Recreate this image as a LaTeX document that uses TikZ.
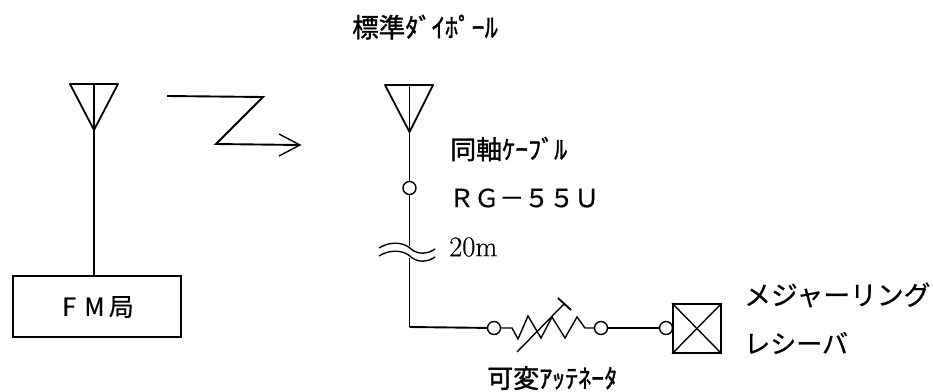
\documentclass[tikz,border=0pt]{standalone}
\usepackage{fontspec}
\setmainfont{Latin Modern Roman}
\newfontfamily\cjk{Noto Sans CJK JP}
\newfontfamily\cjkheavy[FakeBold=1.2]{Noto Sans CJK JP}
\newfontfamily\cjkmed[FakeBold=0.5]{Noto Sans CJK JP}
\newfontfamily\romanmed[FakeBold=0.4]{Latin Modern Roman}
\tikzset{
  wire/.style={line width=1.9pt,black,line join=miter},
  thin wire/.style={line width=1.4pt,black},
  port/.style={circle,draw=black,line width=1.4pt,fill=white,minimum size=13pt,inner sep=0pt},
  lbl/.style={inner sep=0pt,text=black,font=\cjk},
  antenna/.style={line width=1.8pt,black,line join=round},
}
\begin{document}
\begin{tikzpicture}[x=1pt,y=-1pt]
\useasboundingbox[fill=white] (0,0) rectangle (933,391);
% left antenna and station
\coordinate (la1) at (70,84);
\coordinate (la2) at (118,84);
\coordinate (lat) at (94,84);
\coordinate (laa) at (94,130);
\node[draw=black,line width=1.9pt,minimum width=168pt,minimum height=61pt,inner sep=0pt,anchor=north west] (fm) at (12,275) {};
\node[lbl,font=\cjkmed\fontsize{25}{25}\selectfont] (fmt) at (98,307) {F\,\,M\,局};
\draw[antenna] (la1) -- (la2) -- (laa) -- cycle;
\draw[thin wire] (lat) -- (laa);
\draw[wire] (laa) -- (laa |- fm.north);
% radio wave
\coordinate (z1) at (167,96);
\coordinate (z2) at (263,97);
\coordinate (z3) at (216,144);
\coordinate (z4) at (300,145);
\coordinate (h1) at (279,134);
\coordinate (h2) at (279,156);
\draw[wire] (z1) -- (z2) -- (z3) -- (z4);
\draw[thin wire] (h1) -- (z4) -- (h2);
% right antenna
\coordinate (ra1) at (385,85);
\coordinate (ra2) at (433,85);
\coordinate (rat) at (409.5,85);
\coordinate (raa) at (409.5,132);
\draw[antenna] (ra1) -- (ra2) -- (raa) -- cycle;
\draw[thin wire] (rat) -- (raa);
\node[port] (p1) at (409.5,188) {};
\coordinate (b1) at (409.5,246);
\coordinate (b2) at (409.5,258);
\coordinate (corner) at (409.5,327);
\draw[wire] (raa) -- (p1);
\draw[wire] (p1) -- (b1);
\draw[wire] (b2) -- (corner);
% cable break
\coordinate (w1s) at (379,248);
\coordinate (w1e) at (435,249);
\coordinate (w2s) at (379,256);
\coordinate (w2e) at (435,257);
\draw[thin wire] (w1s) .. controls (392,240) and (405,243) .. (411,249) .. controls (418,255) and (428,254) .. (w1e);
\draw[thin wire] (w2s) .. controls (392,248) and (405,251) .. (411,257) .. controls (418,263) and (428,262) .. (w2e);
% attenuator
\node[port] (p2) at (494,328) {};
\node[port] (p3) at (601,328) {};
\node[port] (p4) at (666,328) {};
\node[draw=black,line width=1.8pt,minimum width=48pt,minimum height=49pt,inner sep=0pt,anchor=west] (rx) at (672,328.5) {};
\draw[wire] (corner) -- (p2);
\draw[thin wire,line join=miter] (p2) -- (512,328) -- (518,339) -- (528,316) -- (541,338) -- (552,317) -- (565,338) -- (577,317) -- (585,328) -- (p3);
\draw[wire] (p3) -- (p4);
\coordinate (s1) at (517,352);
\coordinate (s2) at (564,304);
\coordinate (s3) at (558,298);
\coordinate (s4) at (571,310);
\draw[thin wire] (s1) -- (s2);
\draw[wire] (s3) -- (s4);
\draw[thin wire] (rx.north west) -- (rx.south east);
\draw[thin wire] (rx.north east) -- (rx.south west);
% labels
\node[lbl,anchor=west,font=\cjkheavy\fontsize{26.5}{26}\selectfont] (title) at (352,27) {標準ﾀﾞｲﾎﾟｰﾙ};
\node[lbl,anchor=west,font=\cjkheavy\fontsize{26}{26}\selectfont] (coax) at (450,149) {同軸ｹｰﾌﾞﾙ};
\node[lbl,anchor=west,font=\cjkmed\fontsize{25}{25}\selectfont] (rg) at (449,198) {ＲＧ－５５Ｕ};
\node[lbl,anchor=west,font=\romanmed\fontsize{28.5}{28}\selectfont] (len) at (449,247) {20m};
\node[lbl,anchor=west,font=\cjkmed\fontsize{26.8}{26}\selectfont] (mr1) at (744,295) {メジャーリング};
\node[lbl,anchor=west,font=\cjkmed\fontsize{26}{26}\selectfont] (mr2) at (744,343) {レシーバ};
\node[lbl,anchor=west,font=\cjkheavy\fontsize{26}{26}\selectfont] (att) at (487,378) {可変ｱｯﾃﾈｰﾀ};
\end{tikzpicture}
\end{document}
